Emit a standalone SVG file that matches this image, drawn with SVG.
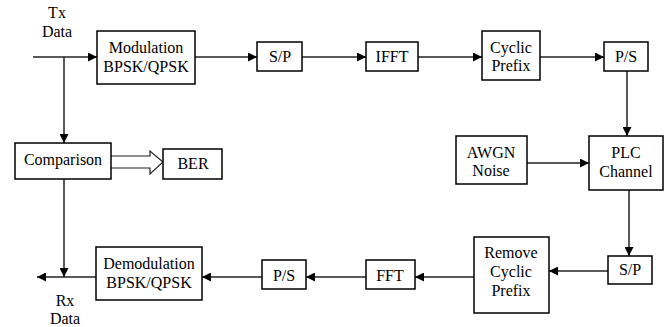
<svg xmlns="http://www.w3.org/2000/svg" width="670" height="327" viewBox="0 0 670 327">
<defs>
<marker id="ah" viewBox="0 0 10 10" refX="10" refY="5" markerWidth="9" markerHeight="9" markerUnits="userSpaceOnUse" orient="auto">
<path d="M0,0 L10,5 L0,10 Z" fill="#000"/>
</marker>
</defs>
<style>
.box{fill:#fff;stroke:#000;stroke-width:1.5}
.t{font-family:"Liberation Serif","DejaVu Serif",serif;font-size:16px;fill:#000;text-anchor:middle}
.c{fill:none;stroke:#222;stroke-width:1.5;marker-end:url(#ah)}
</style>
<rect width="670" height="327" fill="#fff"/>
<g id="connectors">
<line class="c" x1="33" y1="57" x2="97" y2="57"/>
<line class="c" x1="195" y1="57" x2="257" y2="57"/>
<line class="c" x1="302" y1="57" x2="366" y2="57"/>
<line class="c" x1="418" y1="57" x2="482" y2="57"/>
<line class="c" x1="540" y1="57" x2="604" y2="57"/>
<line class="c" x1="627" y1="71" x2="627" y2="136"/>
<line class="c" x1="527" y1="163" x2="589" y2="163"/>
<line class="c" x1="629" y1="190" x2="629" y2="256"/>
<line class="c" x1="608" y1="271" x2="549" y2="271"/>
<line class="c" x1="474" y1="277" x2="415" y2="277"/>
<line class="c" x1="366" y1="277" x2="306" y2="277"/>
<line class="c" x1="262" y1="277" x2="202" y2="277"/>
<line class="c" x1="96" y1="277" x2="37" y2="277"/>
<line class="c" x1="64" y1="57" x2="64" y2="143"/>
<line class="c" x1="64" y1="179" x2="64" y2="277"/>
<path d="M111,156 L150,156 L150,151 L163,162 L150,174 L150,168 L111,168" fill="#fff" stroke="#222" stroke-width="1.2"/>
</g>
<g id="txdata"><text class="t" x="57" y="18">Tx</text><text class="t" x="57" y="37">Data</text></g>
<g id="rxdata"><text class="t" x="65" y="306">Rx</text><text class="t" x="65" y="324">Data</text></g>
<g id="modulation"><rect class="box" x="97" y="31" width="98" height="53"/><text class="t" x="146" y="53">Modulation</text><text class="t" x="146" y="72">BPSK/QPSK</text></g>
<g id="sp1"><rect class="box" x="257" y="42" width="45" height="29"/><text class="t" x="280" y="62">S/P</text></g>
<g id="ifft"><rect class="box" x="366" y="42" width="52" height="29"/><text class="t" x="392" y="62">IFFT</text></g>
<g id="cp"><rect class="box" x="482" y="31" width="58" height="49"/><text class="t" x="511" y="53">Cyclic</text><text class="t" x="511" y="71">Prefix</text></g>
<g id="ps1"><rect class="box" x="604" y="42" width="44" height="29"/><text class="t" x="626" y="62">P/S</text></g>
<g id="awgn"><rect class="box" x="456" y="136" width="71" height="48"/><text class="t" x="491" y="158">AWGN</text><text class="t" x="491" y="176">Noise</text></g>
<g id="plc"><rect class="box" x="589" y="136" width="74" height="54"/><text class="t" x="626" y="158">PLC</text><text class="t" x="626" y="177">Channel</text></g>
<g id="sp2"><rect class="box" x="608" y="256" width="44" height="28"/><text class="t" x="630" y="275">S/P</text></g>
<g id="rcp"><rect class="box" x="474" y="237" width="75" height="76"/><text class="t" x="511" y="258">Remove</text><text class="t" x="511" y="277">Cyclic</text><text class="t" x="511" y="296">Prefix</text></g>
<g id="fft"><rect class="box" x="366" y="260" width="49" height="29"/><text class="t" x="390" y="281">FFT</text></g>
<g id="ps2"><rect class="box" x="262" y="260" width="44" height="29"/><text class="t" x="284" y="281">P/S</text></g>
<g id="demod"><rect class="box" x="96" y="247" width="106" height="53"/><text class="t" x="149" y="269">Demodulation</text><text class="t" x="149" y="288">BPSK/QPSK</text></g>
<g id="comparison"><rect class="box" x="15" y="143" width="96" height="36"/><text class="t" x="63" y="165">Comparison</text></g>
<g id="ber"><rect class="box" x="163" y="149" width="59" height="30"/><text class="t" x="193" y="169">BER</text></g>
</svg>
